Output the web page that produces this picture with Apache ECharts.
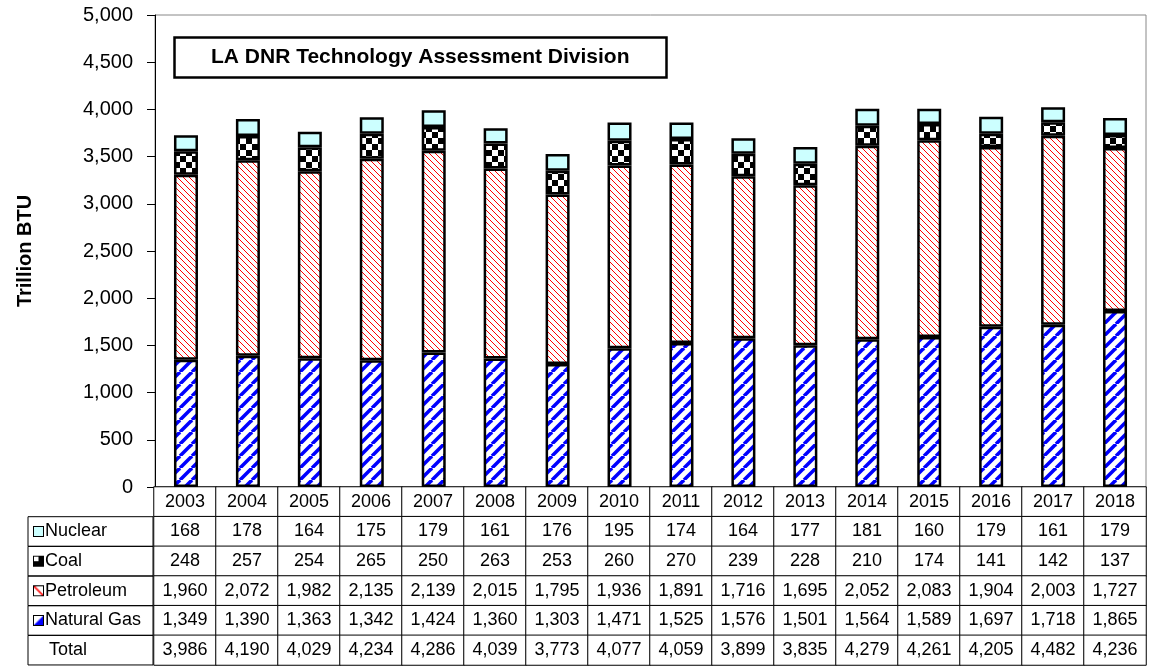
<!DOCTYPE html>
<html>
<head>
<meta charset="utf-8">
<script src="https://cdn.jsdelivr.net/npm/echarts@6/dist/echarts.min.js"></script>
<style>
  html, body { margin: 0; padding: 0; background: #fff; }
  #main { width: 1150px; height: 666px; }
</style>
</head>
<body>
<div id="main"></div>
<script>
// data (Trillion BTU)
var years = ['2003','2004','2005','2006','2007','2008','2009','2010','2011','2012','2013','2014','2015','2016','2017','2018'];
var nuclear   = [168, 178, 164, 175, 179, 161, 176, 195, 174, 164, 177, 181, 160, 179, 161, 179];
var coal      = [248, 257, 254, 265, 250, 263, 253, 260, 270, 239, 228, 210, 174, 141, 142, 137];
var petroleum = [1960, 2072, 1982, 2135, 2139, 2015, 1795, 1936, 1891, 1716, 1695, 2052, 2083, 1904, 2003, 1727];
var gas       = [1349, 1390, 1363, 1342, 1424, 1360, 1303, 1471, 1525, 1576, 1501, 1564, 1589, 1697, 1718, 1865];
var total     = [3986, 4190, 4029, 4234, 4286, 4039, 3773, 4077, 4059, 3899, 3835, 4279, 4261, 4205, 4482, 4236];
var rowNames  = ['', 'Nuclear', 'Coal', 'Petroleum', 'Natural Gas', 'Total'];

var FONT = 'Liberation Sans, Arial, sans-serif';

// fill patterns
function makeCanvas(w, h, draw) {
  var c = document.createElement('canvas');
  c.width = w; c.height = h;
  var ctx = c.getContext('2d');
  ctx.fillStyle = '#fff';
  ctx.fillRect(0, 0, w, h);
  draw(ctx, w, h);
  return c;
}
// blue thick "/" stripes
var gasPattern = makeCanvas(12, 12, function (ctx, s) {
  ctx.strokeStyle = '#0000ff';
  ctx.lineWidth = 3.5;
  for (var k = -1; k <= 1; k++) {
    ctx.beginPath();
    ctx.moveTo(k * s, s);
    ctx.lineTo(k * s + s, 0);
    ctx.stroke();
  }
});
// thin red "\" lines
var petPattern = makeCanvas(6, 6, function (ctx, s) {
  ctx.fillStyle = '#ff0000';
  for (var i = 0; i < s; i++) ctx.fillRect(i, i, 1, 1);
});
// black / white checker
var coalPattern = makeCanvas(12, 12, function (ctx) {
  ctx.fillStyle = '#000';
  ctx.fillRect(0, 0, 6, 6);
  ctx.fillRect(6, 6, 6, 6);
});

// small legend icons for the table
var iconNuc = makeCanvas(8, 8, function (ctx) { ctx.fillStyle = '#ccffff'; ctx.fillRect(0, 0, 8, 8); });
var iconCoal = makeCanvas(8, 8, function (ctx) { ctx.fillStyle = '#000'; ctx.fillRect(0, 0, 8, 8); ctx.fillStyle = '#fff'; ctx.fillRect(0, 0, 4, 4); });
var iconPet = makeCanvas(8, 8, function (ctx) {
  ctx.strokeStyle = '#ff0000'; ctx.lineWidth = 1.5;
  ctx.beginPath(); ctx.moveTo(0, 0); ctx.lineTo(8, 8); ctx.stroke();
});
var iconGas = makeCanvas(8, 8, function (ctx) {
  ctx.fillStyle = '#0000ff';
  ctx.beginPath(); ctx.moveTo(0, 8); ctx.lineTo(8, 0); ctx.lineTo(8, 8); ctx.closePath(); ctx.fill();
});

function iconStyle(img) {
  return { width: 9, height: 9, borderColor: '#000', borderWidth: 2, backgroundColor: { image: img }, verticalAlign: 'middle' };
}

// table cells: header row of years, then one row per series
var tableRows = [nuclear, coal, petroleum, gas, total];
var tableData = [];
years.forEach(function (y, i) {
  tableData.push([i, 0, +y]);
  tableRows.forEach(function (arr, r) {
    tableData.push([i, r + 1, arr[i]]);
  });
});

var chart = echarts.init(document.getElementById('main'));

function barSeries(name, data, fill) {
  return {
    name: name,
    type: 'bar',
    stack: 'energy',
    xAxisIndex: 0,
    yAxisIndex: 0,
    barWidth: 24,
    data: data,
    itemStyle: { color: fill, borderColor: '#000', borderWidth: 2.5 },
    emphasis: { disabled: true }
  };
}

var option = {
  animation: false,
  backgroundColor: '#fff',
  textStyle: { fontFamily: FONT },
  title: {
    text: 'LA DNR Technology Assessment Division',
    left: 174,
    top: 37,
    padding: [10, 37],
    borderColor: '#000',
    borderWidth: 2.5,
    textStyle: { fontFamily: FONT, fontSize: 21, fontWeight: 'bold', color: '#000' }
  },
  grid: [
    { left: 155, right: 4, top: 15, bottom: 179, show: true, borderColor: '#888', borderWidth: 1 },
    { left: 154, right: 4, top: 487, bottom: 1 }
  ],
  xAxis: [
    {
      gridIndex: 0,
      type: 'category',
      data: years,
      axisLine: { lineStyle: { color: '#000', width: 1 } },
      axisTick: { show: false },
      axisLabel: { show: false }
    },
    {
      gridIndex: 1,
      type: 'category',
      data: years,
      show: false
    }
  ],
  yAxis: [
    {
      gridIndex: 0,
      type: 'value',
      min: 0,
      max: 5000,
      interval: 500,
      name: 'Trillion BTU',
      nameLocation: 'middle',
      nameRotate: 90,
      nameGap: 120,
      nameTextStyle: { fontFamily: FONT, fontSize: 20, fontWeight: 'bold', color: '#000' },
      axisLine: { show: true, lineStyle: { color: '#000', width: 1 } },
      axisTick: { show: true, length: 8, lineStyle: { color: '#000' } },
      splitLine: { show: false },
      axisLabel: {
        fontFamily: FONT,
        fontSize: 20,
        color: '#000',
        margin: 22,
        formatter: function (v) { return v.toLocaleString('en-US'); }
      }
    },
    {
      gridIndex: 1,
      type: 'category',
      inverse: true,
      data: rowNames.map(function (n, i) {
        return i === 0 ? { value: n, textStyle: { borderWidth: 0 } } : n;
      }),
      axisLine: { show: false },
      axisTick: { show: false },
      splitLine: { show: false },
      axisLabel: {
        interval: 0,
        align: 'left',
        margin: 126,
        width: 119,
        padding: [0, 0, 0, 6],
        borderColor: '#000',
        borderWidth: 1,
        fontFamily: FONT,
        fontSize: 18,
        color: '#000',
        formatter: function (v) {
          var key = { 'Nuclear': 'nuc', 'Coal': 'coal', 'Petroleum': 'pet', 'Natural Gas': 'gas', 'Total': 'blank' }[v];
          if (!key) return '';
          return '{' + key + '|}{t|' + v + '}';
        },
        rich: {
          nuc: iconStyle(iconNuc),
          coal: iconStyle(iconCoal),
          pet: iconStyle(iconPet),
          gas: iconStyle(iconGas),
          blank: { width: 13, height: 9 },
          t: { fontFamily: FONT, fontSize: 18, color: '#000', lineHeight: 29.6, padding: [0, 0, 0, 2] }
        }
      }
    }
  ],
  series: [
    barSeries('Natural Gas', gas, { image: gasPattern, repeat: 'repeat' }),
    barSeries('Petroleum', petroleum, { image: petPattern, repeat: 'repeat' }),
    barSeries('Coal', coal, { image: coalPattern, repeat: 'repeat' }),
    barSeries('Nuclear', nuclear, '#ccffff'),
    {
      name: 'table',
      type: 'heatmap',
      xAxisIndex: 1,
      yAxisIndex: 1,
      data: tableData,
      itemStyle: { color: '#fff', borderColor: '#000', borderWidth: 1 },
      label: {
        show: true,
        fontFamily: FONT,
        fontSize: 18,
        color: '#000',
        formatter: function (p) {
          return p.value[1] === 0 ? String(p.value[2]) : p.value[2].toLocaleString('en-US');
        }
      },
      emphasis: { disabled: true }
    }
  ]
};

chart.setOption(option);
</script>
</body>
</html>
